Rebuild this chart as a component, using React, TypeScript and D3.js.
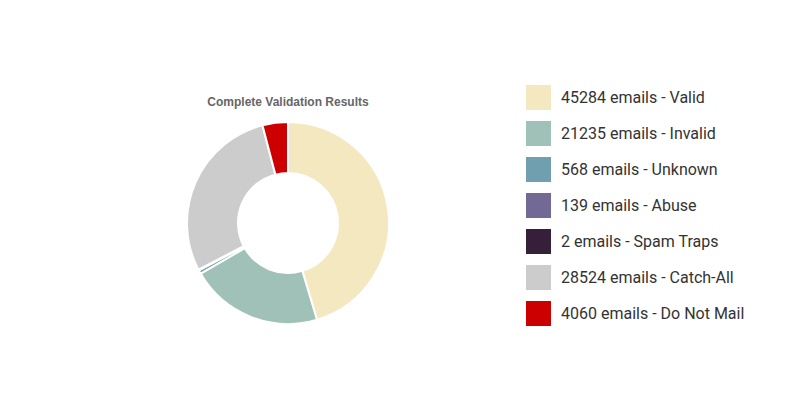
import React from "react";
import * as d3 from "d3";

const categories = ["Valid", "Invalid", "Unknown", "Abuse", "Spam Traps", "Catch-All", "Do Not Mail"];
const values = [45284, 21235, 568, 139, 2, 28524, 4060];
const colors = ["#f4e8c1", "#a0c1b8", "#709fb0", "#726a95", "#351f39", "#cccccc", "#cc0000"];
const title = "Complete Validation Results";

export default function App() {
  const W = 789, H = 395;
  const cx = 288, cy = 223;
  const outerR = 101, innerR = 50;
  const data = categories.map((c, i) => ({ c, v: values[i], color: colors[i] }));
  const pie = d3.pie<any>().value((d: any) => d.v).sort(null);
  const arcs = pie(data);
  const arc = d3.arc<any>().innerRadius(innerR).outerRadius(outerR);
  const legendY = d3.scaleBand<string>().domain(categories).range([85, 85 + 36 * categories.length]);

  return (
    <svg width={W} height={H} style={{ position: "absolute", left: 0, top: 0, background: "#fff" }}>
      <text x={cx} y={106} textAnchor="middle" fontFamily="Arial, 'Liberation Sans', sans-serif" fontSize={12} fontWeight="bold" fill="#666">
        {title}
      </text>
      <g transform={`translate(${cx},${cy})`}>
        {arcs.map((a, i) => (
          <path key={i} d={arc(a) as string} fill={a.data.color} stroke="#fff" strokeWidth={2} strokeLinejoin="round" />
        ))}
      </g>
      <g>
        {data.map((d, i) => {
          const y = legendY(d.c) as number;
          return (
            <g key={i}>
              <rect x={526} y={y} width={25} height={25} fill={d.color} />
              <text x={561} y={y + 12} dy="0.35em" fontFamily="Roboto, sans-serif" fontSize={16} fill="#333">
                {`${d.v} emails - ${d.c}`}
              </text>
            </g>
          );
        })}
      </g>
    </svg>
  );
}
